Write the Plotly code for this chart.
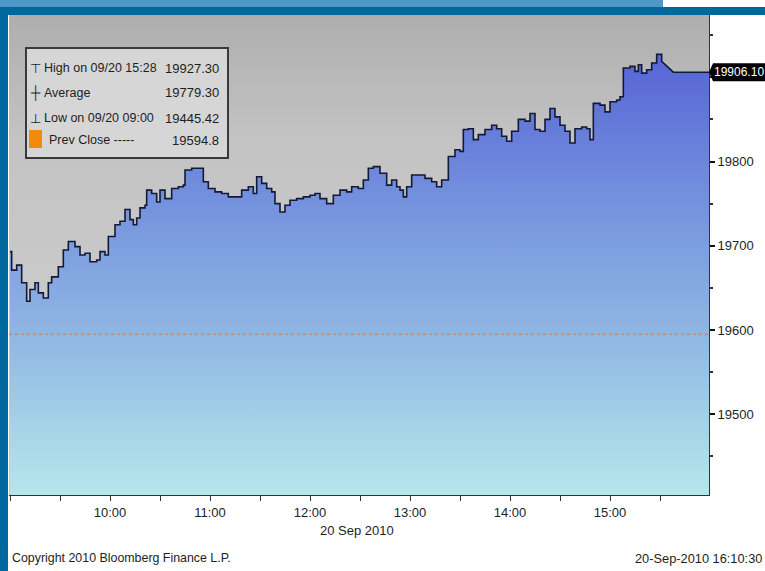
import plotly.graph_objects as go

# ---------------- data ----------------
DAY = "2010-09-20"
times = ["09:00","09:01","09:04","09:07","09:10","09:12","09:15","09:17","09:20","09:23",
         "09:25","09:29","09:32","09:35","09:39","09:42","09:45","09:48","09:52","09:54",
         "09:57","09:59","10:03","10:06","10:09","10:12","10:14","10:16","10:18","10:21",
         "10:22","10:25","10:28","10:30","10:33","10:37","10:41","10:44","10:45","10:49",
         "10:53","10:56","10:59","11:03","11:07","11:11","11:15","11:19","11:23","11:26",
         "11:28","11:31","11:34","11:37","11:39","11:42","11:45","11:48","11:52","11:56",
         "12:00","12:03","12:06","12:10","12:14","12:18","12:22","12:25","12:29","12:32",
         "12:35","12:38","12:42","12:46","12:49","12:52","12:54","12:56","12:58","13:01",
         "13:05","13:09","13:13","13:16","13:19","13:23","13:27","13:30","13:32","13:35",
         "13:38","13:41","13:45","13:49","13:52","13:55","13:58","14:01","14:05","14:09",
         "14:12","14:15","14:18","14:21","14:24","14:27","14:30","14:33","14:36","14:39",
         "14:43","14:46","14:48","14:50","14:54","14:57","15:00","15:04","15:06","15:08",
         "15:12","15:15","15:17","15:19","15:22","15:25","15:28","15:31"]
prices = [19693,19671,19677,19656,19634,19648,19656,19644,19638,19656,
          19663,19675,19695,19705,19699,19689,19691,19681,19683,19693,
          19689,19711,19725,19729,19743,19731,19725,19733,19745,19748,
          19766,19762,19752,19766,19756,19768,19770,19772,19790,19792,
          19792,19776,19768,19764,19762,19758,19758,19766,19770,19762,
          19782,19774,19768,19764,19750,19740,19748,19754,19756,19758,
          19760,19762,19756,19750,19760,19766,19764,19770,19768,19778,
          19792,19794,19786,19772,19778,19770,19766,19758,19770,19784,
          19784,19780,19776,19770,19778,19806,19814,19812,19838,19839,
          19826,19832,19838,19843,19839,19830,19824,19836,19850,19848,
          19857,19838,19836,19850,19863,19853,19843,19836,19822,19839,
          19841,19839,19826,19869,19867,19859,19871,19873,19877,19911,
          19913,19907,19915,19905,19909,19917,19927.30,19919]
# after the last tick the price drifts linearly to the last trade, then stays flat
tail_times = ["15:38", "16:00"]
tail_prices = [19906.10, 19906.10]

x_ticks = ["10:00", "11:00", "12:00", "13:00", "14:00", "15:00"]
y_ticks = [19500, 19600, 19700, 19800, 19900]
y_ticktext = ["19500", "19600", "19700", "19800", ""]

high_label, high_val = "High on 09/20 15:28", "19927.30"
avg_label, avg_val = "Average", "19779.30"
low_label, low_val = "Low on 09/20 09:00", "19445.42"
prev_label, prev_close = "Prev Close -----", 19594.8
last_price = 19906.10

# ---------------- styling ----------------
FONT = "Liberation Sans, Arial, sans-serif"
TXT = "#1e1e1e"
YMIN, YMAX = 19404, 19974
X0, X1 = f"{DAY} 08:59:24", f"{DAY} 15:59:24"
W, H = 765, 571
ML, MR, MT, MB = 9, 56, 15, 76
PW, PH = W - ML - MR, H - MT - MB

def px(xpix):
    return (xpix - ML) / PW

def py(ypix):
    return (H - MB - ypix) / PH

def yv(v):
    return (v - YMIN) / (YMAX - YMIN)

def full(ts):
    return [f"{DAY} {t}" for t in ts]

# step path (tick-by-tick, value held until next tick), then linear tail
tx, ty_ = full(times), prices
line_x, line_y = [], []
for i in range(len(tx)):
    line_x.append(tx[i]); line_y.append(ty_[i])
    if i < len(tx) - 1:
        line_x.append(tx[i + 1]); line_y.append(ty_[i])
line_x += full(tail_times)
line_y += tail_prices

fill_scale = [
    [0.00, "#b6e7eb"],
    [0.19, "#a2cfe7"],
    [0.38, "#8fb5e3"],
    [0.57, "#7e9fe0"],
    [0.76, "#6d87dc"],
    [0.97, "#5a6bd6"],
    [1.00, "#5868d5"],
]
grad = dict(type="vertical", colorscale=fill_scale, start=YMIN, stop=YMIN + (YMAX - YMIN) * 0.9)

fig = go.Figure()

# gray background gradient
fig.add_trace(go.Scatter(
    x=[f"{DAY} 08:50", f"{DAY} 16:10"], y=[YMAX + 50, YMAX + 50], mode="none",
    fill="tozeroy", hoverinfo="skip", showlegend=False,
    fillgradient=dict(type="vertical",
                      colorscale=[[0, "#c9c9c9"], [0.55, "#c3c3c3"], [1, "#aeaeae"]],
                      start=YMIN + 250, stop=YMAX),
))

fig.add_trace(go.Scatter(
    x=line_x, y=line_y, mode="lines", line=dict(color="#141936", width=1.6),
    fill="tozeroy", fillgradient=grad, showlegend=False, hoverinfo="skip",
))

shapes = []
annotations = []

# prev close dotted line
shapes.append(dict(type="line", xref="paper", yref="y", x0=0, x1=1, y0=prev_close, y1=prev_close,
                   line=dict(color="#d98a5e", width=2, dash="dot"), layer="above"))

# frame / banner
shapes.append(dict(type="rect", xref="paper", yref="paper", x0=px(0), x1=px(8), y0=py(571), y1=py(0),
                   fillcolor="#00679e", line=dict(width=0), layer="above"))
shapes.append(dict(type="rect", xref="paper", yref="paper", x0=px(0), x1=px(765), y0=py(15), y1=py(7),
                   fillcolor="#00679e", line=dict(width=0), layer="above"))
shapes.append(dict(type="rect", xref="paper", yref="paper", x0=px(0), x1=px(663), y0=py(7), y1=py(0),
                   fillcolor="#4f97c6", line=dict(width=0), layer="above"))

# legend box
shapes.append(dict(type="rect", xref="paper", yref="paper", x0=px(26), x1=px(228), y0=py(158), y1=py(48),
                   fillcolor="#d6d6d6", line=dict(color="#3a3a3a", width=2), layer="above"))
shapes.append(dict(type="rect", xref="paper", yref="paper", x0=px(29), x1=px(42), y0=py(148), y1=py(130),
                   fillcolor="#f28a0c", line=dict(width=0), layer="above"))

rows = [("\u22a4", high_label, high_val, 68, 42),
        ("\u253c", avg_label, avg_val, 93, 42),
        ("\u22a5", low_label, low_val, 118, 42),
        ("", prev_label, f"{prev_close}", 140, 47)]
for sym, lab, val, ypix, xl in rows:
    if sym:
        annotations.append(dict(xref="paper", yref="paper", x=px(35), y=py(ypix), text=sym, showarrow=False,
                                xanchor="center", yanchor="middle", font=dict(family=FONT, size=13, color=TXT)))
    annotations.append(dict(xref="paper", yref="paper", x=px(xl), y=py(ypix), text=lab, showarrow=False,
                            xanchor="left", yanchor="middle", font=dict(family=FONT, size=12.5, color=TXT)))
    annotations.append(dict(xref="paper", yref="paper", x=px(221), y=py(ypix), text=val, showarrow=False,
                            xanchor="right", yanchor="middle", font=dict(family=FONT, size=13, color=TXT)))

# last price tag
tagy = yv(last_price)
hh = 9 / PH
tag_path = (f"M {px(709)},{tagy} L {px(713)},{tagy + hh} L {px(765)},{tagy + hh} "
            f"L {px(765)},{tagy - hh} L {px(713)},{tagy - hh} Z")
shapes.append(dict(type="path", xref="paper", yref="paper", path=tag_path,
                   fillcolor="#000000", line=dict(width=0), layer="above"))
annotations.append(dict(xref="paper", yref="paper", x=px(739), y=tagy, text=f"{last_price:.2f}",
                        showarrow=False, xanchor="center", yanchor="middle",
                        font=dict(family=FONT, size=12, color="#ffffff")))

# texts
annotations.append(dict(xref="paper", yref="paper", x=px(357), y=py(530), text="20 Sep 2010", showarrow=False,
                        xanchor="center", yanchor="middle", font=dict(family=FONT, size=13, color=TXT)))
annotations.append(dict(xref="paper", yref="paper", x=px(10), y=py(558), text="Copyright 2010 Bloomberg Finance L.P.",
                        showarrow=False, xanchor="left", yanchor="middle",
                        font=dict(family=FONT, size=12.4, color=TXT)))
annotations.append(dict(xref="paper", yref="paper", x=px(764), y=py(558), text="20-Sep-2010 16:10:30",
                        showarrow=False, xanchor="right", yanchor="middle",
                        font=dict(family=FONT, size=12.8, color=TXT)))

fig.update_layout(
    width=W, height=H, margin=dict(l=ML, r=MR, t=MT, b=MB, pad=0),
    paper_bgcolor="#ffffff", plot_bgcolor="#bdbdbd",
    showlegend=False, shapes=shapes, annotations=annotations,
    font=dict(family=FONT, size=13, color=TXT),
    xaxis=dict(type="date", range=[X0, X1], tickvals=full(x_ticks), ticktext=x_ticks,
               ticks="outside", ticklen=5, tickwidth=1, tickcolor="#333333",
               showline=True, linecolor="#333333", linewidth=1, showgrid=False, zeroline=False,
               tickfont=dict(family=FONT, size=13, color=TXT),
               minor=dict(tick0=f"{DAY} 09:30", dtick=1800000, ticks="outside", ticklen=5,
                          tickcolor="#333333", showgrid=False)),
    yaxis=dict(side="right", range=[YMIN, YMAX], tickvals=y_ticks, ticktext=y_ticktext,
               ticks="outside", ticklen=5, tickwidth=2, tickcolor="#111111",
               showline=True, linecolor="#333333", linewidth=1, showgrid=False, zeroline=False,
               tickfont=dict(family=FONT, size=13, color=TXT),
               minor=dict(tick0=19450, dtick=100, ticks="outside", ticklen=3,
                          tickcolor="#333333", showgrid=False)),
)

fig.write_html("out.html", config={"displayModeBar": False},
               post_script="document.body.style.margin='0';")
